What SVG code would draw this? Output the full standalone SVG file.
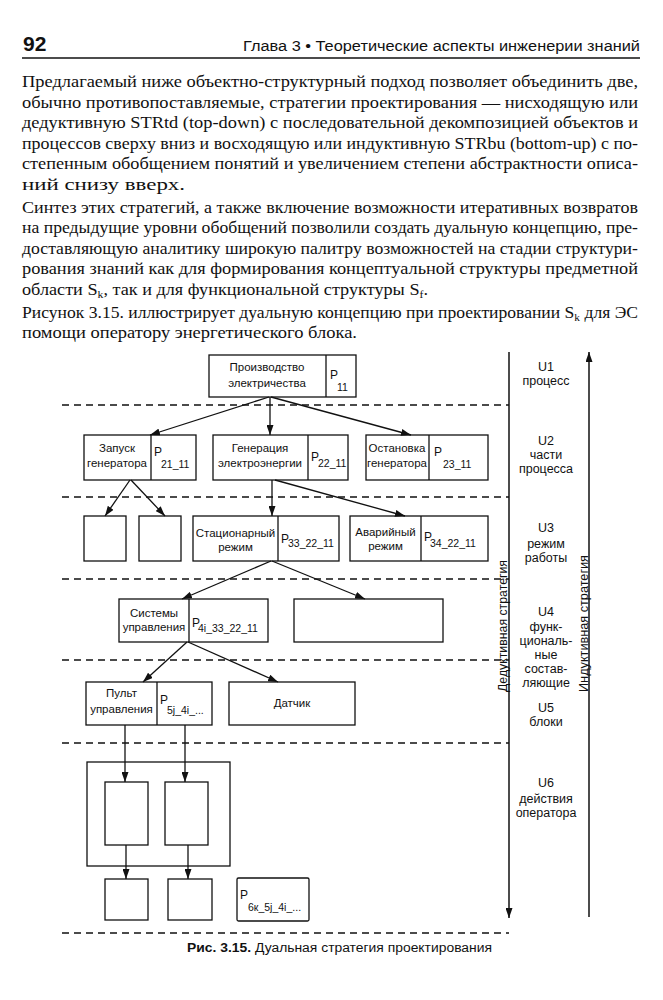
<svg xmlns="http://www.w3.org/2000/svg" width="663" height="1000" viewBox="0 0 663 1000">
<defs>
<marker id="ah" viewBox="0 0 10 7" refX="10" refY="3.5" markerWidth="10" markerHeight="7" markerUnits="userSpaceOnUse" orient="auto">
<path d="M0,0 L10,3.5 L0,7 z" fill="#111"/>
</marker>
<style>
.body{font-family:"Liberation Serif","DejaVu Serif",serif;font-size:17px;fill:#111}
.hdr{font-family:"Liberation Sans",Arial,sans-serif;fill:#111}
.box{fill:none;stroke:#111;stroke-width:1.3}
.lbl{font-family:"Liberation Sans",Arial,sans-serif;font-size:11.5px;fill:#111;text-anchor:middle}
.p{font-family:"Liberation Sans",Arial,sans-serif;font-size:12px;fill:#111}
.ps{font-family:"Liberation Sans",Arial,sans-serif;font-size:10.5px;fill:#111}
.u{font-family:"Liberation Sans",Arial,sans-serif;font-size:12.5px;fill:#111;text-anchor:middle}
.dash{stroke:#111;stroke-width:1.4;stroke-dasharray:7 5;fill:none}
.con{stroke:#111;stroke-width:1.3;fill:none;marker-end:url(#ah)}
.axis{stroke:#111;stroke-width:1.5;fill:none;marker-end:url(#ah)}
.rot{font-family:"Liberation Sans",Arial,sans-serif;font-size:12px;fill:#111}
</style>
</defs>
<rect x="0" y="0" width="663" height="1000" fill="#fff"/>

<g id="header">
<text class="hdr" x="23" y="51" font-size="21" font-weight="bold">92</text>
<text class="hdr" x="243" y="51" font-size="15.5" textLength="397" lengthAdjust="spacingAndGlyphs">Глава 3 • Теоретические аспекты инженерии знаний</text>
<line x1="22" y1="58" x2="640" y2="58" stroke="#111" stroke-width="1.5"/>
</g>

<g id="body-text">
<text class="body" x="22" y="87" textLength="616" lengthAdjust="spacingAndGlyphs">Предлагаемый ниже объектно-структурный подход позволяет объединить две,</text>
<text class="body" x="22" y="107.5" textLength="616" lengthAdjust="spacingAndGlyphs">обычно противопоставляемые, стратегии проектирования — нисходящую или</text>
<text class="body" x="22" y="128" textLength="616" lengthAdjust="spacingAndGlyphs">дедуктивную STRtd (top-down) с последовательной декомпозицией объектов и</text>
<text class="body" x="22" y="148.5" textLength="616" lengthAdjust="spacingAndGlyphs">процессов сверху вниз и восходящую или индуктивную STRbu (bottom-up) с по-</text>
<text class="body" x="22" y="169" textLength="616" lengthAdjust="spacingAndGlyphs">степенным обобщением понятий и увеличением степени абстрактности описа-</text>
<text class="body" x="22" y="189.5" textLength="163" lengthAdjust="spacingAndGlyphs">ний снизу вверх.</text>
<text class="body" x="22" y="212.5" textLength="616" lengthAdjust="spacingAndGlyphs">Синтез этих стратегий, а также включение возможности итеративных возвратов</text>
<text class="body" x="22" y="233" textLength="616" lengthAdjust="spacingAndGlyphs">на предыдущие уровни обобщений позволили создать дуальную концепцию, пре-</text>
<text class="body" x="22" y="253.5" textLength="616" lengthAdjust="spacingAndGlyphs">доставляющую аналитику широкую палитру возможностей на стадии структури-</text>
<text class="body" x="22" y="274" textLength="616" lengthAdjust="spacingAndGlyphs">рования знаний как для формирования концептуальной структуры предметной</text>
<text class="body" x="22" y="294.5" textLength="406" lengthAdjust="spacingAndGlyphs">области S<tspan font-size="11" dy="3">k</tspan><tspan dy="-3">, так и для функциональной структуры S</tspan><tspan font-size="11" dy="3">f</tspan><tspan dy="-3">.</tspan></text>
<text class="body" x="22" y="317.5" textLength="616" lengthAdjust="spacingAndGlyphs">Рисунок 3.15. иллюстрирует дуальную концепцию при проектировании S<tspan font-size="11" dy="3">k</tspan><tspan dy="-3"> для ЭС</tspan></text>
<text class="body" x="22" y="338" textLength="335" lengthAdjust="spacingAndGlyphs">помощи оператору энергетического блока.</text>
</g>

<g id="level-separators">
<line class="dash" x1="62" y1="405" x2="509" y2="405"/>
<line class="dash" x1="62" y1="497" x2="509" y2="497"/>
<line class="dash" x1="62" y1="579" x2="509" y2="579"/>
<line class="dash" x1="62" y1="660" x2="509" y2="660"/>
<line class="dash" x1="62" y1="743" x2="509" y2="743"/>
<line class="dash" x1="62" y1="933" x2="509" y2="933"/>
</g>

<g id="n-proizvodstvo">
<rect class="box" x="209" y="355" width="147" height="42"/>
<line class="box" x1="326" y1="355" x2="326" y2="397"/>
<text class="lbl" x="267" y="371" font-size="12">Производство</text>
<text class="lbl" x="267" y="387" font-size="12">электричества</text>
<text class="p" x="330" y="379">P</text>
<text class="ps" x="337" y="391">11</text>
</g>

<g id="n-zapusk">
<rect class="box" x="84" y="435" width="112" height="45"/>
<line class="box" x1="151" y1="435" x2="151" y2="480"/>
<text class="lbl" x="117" y="452">Запуск</text>
<text class="lbl" x="117" y="467">генератора</text>
<text class="p" x="154" y="456">P</text>
<text class="ps" x="161" y="468">21_11</text>
</g>

<g id="n-generatsiya">
<rect class="box" x="213" y="435" width="135" height="45"/>
<line class="box" x1="308" y1="435" x2="308" y2="480"/>
<text class="lbl" x="260" y="452">Генерация</text>
<text class="lbl" x="260" y="467">электроэнергии</text>
<text class="p" x="311" y="461">P</text>
<text class="ps" x="318" y="467">22_11</text>
</g>

<g id="n-ostanovka">
<rect class="box" x="366" y="435" width="122" height="45"/>
<line class="box" x1="429" y1="435" x2="429" y2="480"/>
<text class="lbl" x="397" y="452">Остановка</text>
<text class="lbl" x="397" y="467">генератора</text>
<text class="p" x="434" y="456">P</text>
<text class="ps" x="443" y="468">23_11</text>
</g>

<g id="n-empty-1">
<rect class="box" x="84" y="516" width="42" height="45"/>
</g>
<g id="n-empty-2">
<rect class="box" x="139" y="516" width="42" height="45"/>
</g>

<g id="n-statsionarny">
<rect class="box" x="193" y="516" width="146" height="45"/>
<line class="box" x1="278" y1="516" x2="278" y2="561"/>
<text class="lbl" x="235.5" y="537">Стационарный</text>
<text class="lbl" x="235.5" y="551">режим</text>
<text class="p" x="281" y="543">P</text>
<text class="ps" x="288" y="547">33_22_11</text>
</g>

<g id="n-avariyny">
<rect class="box" x="350" y="516" width="138" height="45"/>
<line class="box" x1="421" y1="516" x2="421" y2="561"/>
<text class="lbl" x="385.5" y="536">Аварийный</text>
<text class="lbl" x="385.5" y="550">режим</text>
<text class="p" x="424" y="541">P</text>
<text class="ps" x="430" y="547">34_22_11</text>
</g>

<g id="n-sistemy">
<rect class="box" x="119" y="599" width="149" height="43"/>
<line class="box" x1="189" y1="599" x2="189" y2="642"/>
<text class="lbl" x="154" y="617">Системы</text>
<text class="lbl" x="154" y="631">управления</text>
<text class="p" x="192" y="627">P</text>
<text class="ps" x="198" y="632">4i_33_22_11</text>
</g>

<g id="n-empty-3">
<rect class="box" x="294" y="599" width="149" height="43"/>
</g>

<g id="n-pult">
<rect class="box" x="86" y="682" width="126" height="43"/>
<line class="box" x1="157" y1="682" x2="157" y2="725"/>
<text class="lbl" x="121.5" y="697">Пульт</text>
<text class="lbl" x="121.5" y="713">управления</text>
<text class="p" x="160" y="704">P</text>
<text class="ps" x="167" y="714">5j_4i_...</text>
</g>

<g id="n-datchik">
<rect class="box" x="229" y="682" width="126" height="43"/>
<text class="lbl" x="292" y="707">Датчик</text>
</g>

<g id="n-operator-group">
<rect class="box" x="87" y="762" width="143" height="104"/>
</g>
<g id="n-inner-1">
<rect class="box" x="105" y="782" width="43" height="63"/>
</g>
<g id="n-inner-2">
<rect class="box" x="165" y="782" width="43" height="63"/>
</g>
<g id="n-bottom-1">
<rect class="box" x="105" y="879" width="43" height="41"/>
</g>
<g id="n-bottom-2">
<rect class="box" x="168" y="879" width="44" height="41"/>
</g>
<g id="n-p6">
<rect class="box" x="237" y="878" width="72" height="43" rx="1.5"/>
<text class="p" x="240" y="899">P</text>
<text class="ps" x="248" y="911">6к_5j_4i_...</text>
</g>

<g id="connectors">
<line class="con" x1="269" y1="397" x2="150" y2="435"/>
<line class="con" x1="270" y1="397" x2="270" y2="435"/>
<line class="con" x1="271" y1="397" x2="411" y2="435"/>
<line class="con" x1="130" y1="480" x2="105" y2="516"/>
<line class="con" x1="131" y1="480" x2="165" y2="516"/>
<line class="con" x1="272" y1="480" x2="272" y2="516"/>
<line class="con" x1="275" y1="480" x2="405" y2="516"/>
<line class="con" x1="271" y1="561" x2="182" y2="599"/>
<line class="con" x1="272" y1="561" x2="365" y2="599"/>
<line class="con" x1="187" y1="642" x2="143" y2="682"/>
<line class="con" x1="188" y1="642" x2="278" y2="682"/>
<line class="con" x1="125" y1="725" x2="125" y2="782"/>
<line class="con" x1="185" y1="725" x2="185" y2="782"/>
<line class="con" x1="126" y1="845" x2="126" y2="879"/>
<line class="con" x1="188" y1="845" x2="188" y2="879"/>
</g>

<g id="axes">
<line class="axis" x1="509" y1="352" x2="509" y2="918"/>
<line class="axis" x1="589" y1="917" x2="589" y2="352"/>
<text class="rot" x="507" y="692" transform="rotate(-90 507 692)" textLength="132" lengthAdjust="spacingAndGlyphs">Дедуктивная стратегия</text>
<text class="rot" x="588" y="692" transform="rotate(-90 588 692)" textLength="137" lengthAdjust="spacingAndGlyphs">Индуктивная стратегия</text>
</g>

<g id="level-labels">
<text class="u" x="546" y="371">U1</text>
<text class="u" x="546" y="385">процесс</text>
<text class="u" x="546" y="445">U2</text>
<text class="u" x="546" y="459">части</text>
<text class="u" x="546" y="473">процесса</text>
<text class="u" x="546" y="532">U3</text>
<text class="u" x="546" y="548">режим</text>
<text class="u" x="546" y="562">работы</text>
<text class="u" x="546" y="616">U4</text>
<text class="u" x="546" y="631">функ-</text>
<text class="u" x="546" y="645">циональ-</text>
<text class="u" x="546" y="659">ные</text>
<text class="u" x="546" y="673">состав-</text>
<text class="u" x="546" y="687">ляющие</text>
<text class="u" x="546" y="712">U5</text>
<text class="u" x="546" y="726">блоки</text>
<text class="u" x="546" y="787">U6</text>
<text class="u" x="546" y="803">действия</text>
<text class="u" x="546" y="817">оператора</text>
</g>

<g id="caption">
<text class="hdr" x="187" y="952" font-size="12.5" textLength="305" lengthAdjust="spacingAndGlyphs"><tspan font-weight="bold">Рис. 3.15.</tspan> Дуальная стратегия проектирования</text>
</g>
</svg>
